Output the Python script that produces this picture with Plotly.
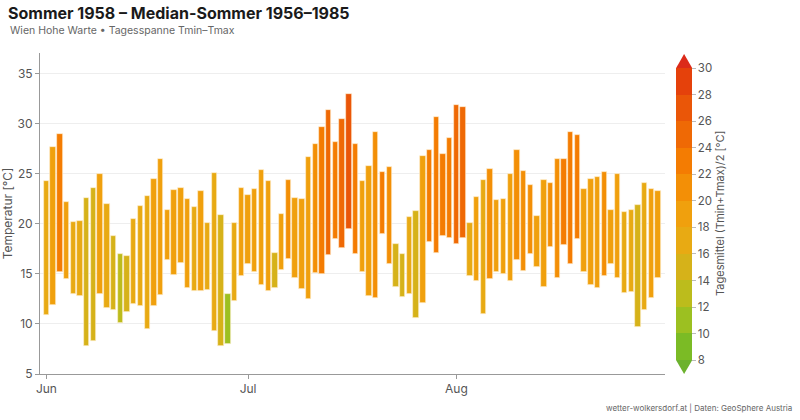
import pandas as pd
import plotly.graph_objects as go

dates = pd.date_range("1958-06-01", "1958-08-31", freq="D")

tmax = [24.3, 27.7, 29.0, 22.2, 20.2, 20.3, 22.6, 23.6, 25.0, 22.0,
        18.8, 17.0, 16.8, 20.5, 21.8, 22.8, 24.5, 26.5, 21.4, 23.4,
        23.6, 22.5, 21.7, 23.3, 20.1, 25.1, 20.9, 13.0, 20.1, 23.6,
        22.9, 23.5, 25.4, 24.3, 17.1, 21.0, 24.4, 22.6, 22.5, 26.7,
        28.0, 29.7, 31.4, 28.2, 30.5, 33.0, 28.0, 24.3, 25.8, 29.2,
        25.2, 25.7, 18.0, 17.0, 20.7, 21.3, 26.8, 27.4, 30.7, 27.0,
        28.6, 31.9, 31.7, 20.1, 22.7, 24.4, 25.5, 22.4, 22.5, 25.0,
        27.4, 25.3, 23.9, 20.8, 24.4, 24.1, 26.5, 26.5, 29.2, 28.9,
        23.5, 24.5, 24.7, 25.2, 21.4, 25.0, 21.2, 21.4, 21.9, 24.1,
        23.5, 23.3]
tmin = [10.9, 11.9, 15.2, 14.5, 13.0, 12.8, 7.8, 8.3, 13.0, 11.6,
        11.4, 10.1, 11.2, 12.0, 11.8, 9.5, 11.8, 12.9, 16.4, 14.9,
        16.1, 13.6, 13.3, 13.3, 13.4, 9.3, 7.8, 8.0, 12.3, 14.8,
        16.0, 15.2, 13.9, 13.3, 13.6, 15.4, 16.5, 14.6, 13.5, 12.5,
        15.1, 15.0, 16.9, 18.5, 17.6, 19.5, 17.0, 15.2, 12.8, 12.6,
        19.0, 16.0, 13.7, 12.7, 13.0, 10.6, 12.1, 18.2, 17.1, 18.8,
        18.6, 18.0, 18.6, 14.8, 14.3, 11.0, 14.5, 15.2, 15.0, 14.3,
        16.4, 15.3, 17.0, 15.7, 13.7, 17.7, 14.6, 17.9, 16.0, 18.5,
        15.2, 13.9, 13.6, 14.8, 16.0, 14.6, 13.1, 13.2, 9.7, 11.4,
        12.6, 14.6]

tmean = [(a + b) / 2 for a, b in zip(tmin, tmax)]
span = [b - a for a, b in zip(tmin, tmax)]

bin_colors = ["#7bbb25", "#9cc021", "#bcbc1c", "#d6b219", "#e8aa13", "#f0a00d",
              "#f38f06", "#f47c02", "#ef6905", "#ea5608", "#e5410b"]
n = len(bin_colors)
colorscale = []
for i, c in enumerate(bin_colors):
    colorscale.append([i / n, c])
    colorscale.append([(i + 1) / n, c])

FONT = "Inter, Roboto, sans-serif"
GREY = "#555555"

# plot area in pixels
L, R, T, B = 40, 665, 53, 374
def px(xp):
    return (xp - L) / (R - L)
def py(yp):
    return (B - yp) / (B - T)

fig = go.Figure()
fig.add_trace(go.Bar(
    x=dates, y=span, base=tmin,
    width=0.8 * 86400000,
    marker=dict(
        color=tmean, colorscale=colorscale, cmin=8, cmax=30,
        line=dict(color="rgba(255,240,210,0.9)", width=0.7),
        colorbar=dict(
            x=px(676), xanchor="left", xref="paper", xpad=0,
            y=py((68.3 + 360) / 2), yanchor="middle", ypad=0,
            len=291.7, lenmode="pixels", thickness=16,
            outlinewidth=0,
            tickmode="array", tickvals=list(range(8, 31, 2)),
            ticks="outside", ticklen=4, tickcolor="#bbbbbb",
            tickfont=dict(family=FONT, size=11.5, color=GREY),
        ),
    ),
    hovertemplate="%{x|%d.%m.}: %{base:.1f}–%{y:.1f}<extra></extra>",
    showlegend=False,
))

fig.add_shape(type="path", xref="paper", yref="paper",
              path=f"M {px(676)} {py(68.3)} L {px(692.3)} {py(68.3)} L {px(684.1)} {py(54)} Z",
              fillcolor="#dc2a1a", line=dict(width=0))
fig.add_shape(type="path", xref="paper", yref="paper",
              path=f"M {px(676)} {py(360)} L {px(692.3)} {py(360)} L {px(684.1)} {py(374)} Z",
              fillcolor="#6cb22e", line=dict(width=0))

fig.update_layout(
    width=800, height=420,
    margin=dict(l=L, r=800 - R, t=T, b=420 - B, autoexpand=False),
    plot_bgcolor="white", paper_bgcolor="white",
    bargap=0,
    font=dict(family=FONT, color=GREY),
    title=dict(text="<b>Sommer 1958 – Median-Sommer 1956–1985</b>",
               x=8 / 800, xref="container", xanchor="left",
               y=1 - 13 / 420, yref="container", yanchor="middle",
               font=dict(family=FONT, size=16, color="#1a1a1a")),
    xaxis=dict(
        type="date",
        range=["1958-05-31 01:10", "1958-09-01 00:40"],
        tickmode="array",
        tickvals=["1958-06-01", "1958-07-01", "1958-08-01"],
        ticktext=["Jun", "Jul", "Aug"],
        ticks="outside", ticklen=4, tickcolor="#999999",
        showline=True, linecolor="#999999", linewidth=1,
        showgrid=False, zeroline=False, automargin=False,
        tickfont=dict(family=FONT, size=12, color=GREY),
    ),
    yaxis=dict(
        range=[5, 37.05],
        tickvals=[5, 10, 15, 20, 25, 30, 35],
        ticks="outside", ticklen=4, tickcolor="#999999",
        showline=True, linecolor="#999999", linewidth=1,
        showgrid=True, gridcolor="#eeeeee", gridwidth=1,
        zeroline=False, automargin=False,
        tickfont=dict(family=FONT, size=12, color=GREY),
        title=dict(text="Temperatur [°C]", standoff=4,
                   font=dict(family=FONT, size=12, color=GREY)),
    ),
)

fig.add_annotation(text="Tagesmittel (Tmin+Tmax)/2 [°C]",
                   xref="paper", yref="paper", x=px(720), y=py(213),
                   xanchor="center", yanchor="middle", textangle=-90,
                   showarrow=False,
                   font=dict(family=FONT, size=11, color=GREY))
fig.add_annotation(text="Wien Hohe Warte • Tagesspanne Tmin–Tmax",
                   xref="paper", yref="paper", x=px(8), y=py(31),
                   xanchor="left", yanchor="middle", showarrow=False,
                   font=dict(family=FONT, size=10.5, color="#666666"))
fig.add_annotation(text="wetter-wolkersdorf.at | Daten: GeoSphere Austria",
                   xref="paper", yref="paper", x=px(794), y=py(408),
                   xanchor="right", yanchor="middle", showarrow=False,
                   font=dict(family=FONT, size=8, color="#666666"))

fig.write_html("out.html")
